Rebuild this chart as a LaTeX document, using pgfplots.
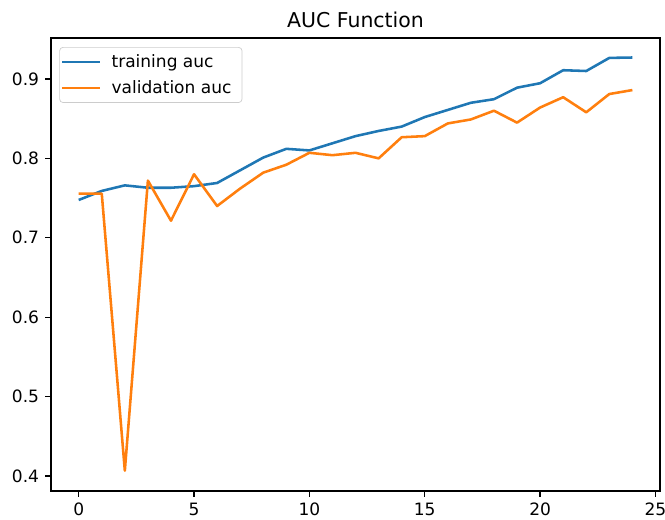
\documentclass[border=0pt]{standalone}
\usepackage{pgfplots}
\pgfplotsset{compat=1.18}
\usepackage{fontspec}
\setmainfont{DejaVu Sans}
\definecolor{mplblue}{HTML}{1F77B4}
\definecolor{mplorange}{HTML}{FF7F0E}
\begin{document}
\begin{tikzpicture}
\begin{axis}[
  scale only axis, width=357.6pt, height=266pt,
  xmin=-1.2, xmax=25.2, ymin=0.3811, ymax=0.9516,
  xtick={0,5,10,15,20,25}, ytick={0.4,0.5,0.6,0.7,0.8,0.9},
  tick align=outside, major tick length=3.5pt,
  every tick/.style={black, line width=0.8pt},
  axis line style={line width=0.8pt},
  tick label style={font=\fontsize{10}{12}\selectfont},
  /pgf/number format/assume math mode=true,
  yticklabel style={/pgf/number format/.cd, fixed, fixed zerofill, precision=1},
  xtick pos=lower, ytick pos=left,
  every axis title shift=0pt,
  title={AUC Function},
  title style={font=\fontsize{12}{14}\selectfont, at={(0.5,1)}, anchor=base, yshift=6.3pt},
  legend cell align=left,
  legend style={at={(0.0136,0.980)}, anchor=north west, draw=black!20, rounded corners=2pt,
    fill=white, font=\fontsize{10}{12}\selectfont, inner xsep=0.7pt, inner ysep=2pt, row sep=2.2pt, column sep=4.3pt},
  legend image code/.code={\draw[#1] (0pt,0pt) -- (22pt,0pt);},
]
\addplot[mplblue, line width=1.5pt, line join=round] coordinates {
(0,0.7476) (1,0.759) (2,0.766) (3,0.763) (4,0.763) (5,0.765) (6,0.769)
(7,0.785) (8,0.801) (9,0.812) (10,0.810) (11,0.819) (12,0.828) (13,0.8345)
(14,0.840) (15,0.852) (16,0.861) (17,0.870) (18,0.8745) (19,0.889) (20,0.8946)
(21,0.911) (22,0.910) (23,0.9265) (24,0.927)
};
\addlegendentry{training auc}
\addplot[mplorange, line width=1.5pt, line join=round] coordinates {
(0,0.7556) (1,0.7556) (2,0.4067) (3,0.772) (4,0.7215) (5,0.780) (6,0.740)
(7,0.762) (8,0.782) (9,0.792) (10,0.807) (11,0.804) (12,0.807) (13,0.800)
(14,0.8266) (15,0.828) (16,0.844) (17,0.849) (18,0.860) (19,0.845) (20,0.864)
(21,0.877) (22,0.858) (23,0.881) (24,0.886)
};
\addlegendentry{validation auc\hspace*{3.5pt}}
\end{axis}
\pgfresetboundingbox
\path[use as bounding box] ([shift={(-29.95pt,-17pt)}]current axis.south west) rectangle ([shift={(2.9pt,22.3pt)}]current axis.north east);
\end{tikzpicture}
\end{document}
